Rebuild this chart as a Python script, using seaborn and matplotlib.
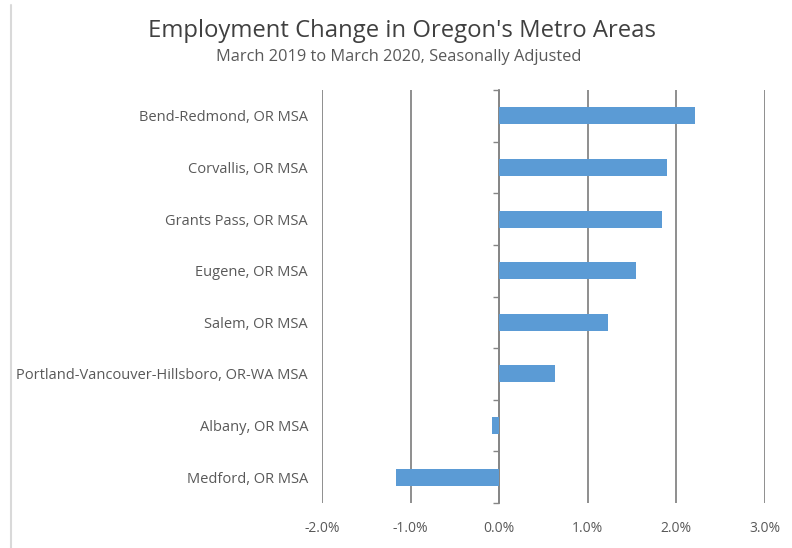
import matplotlib
matplotlib.use("Agg")
import matplotlib.pyplot as plt
import seaborn as sns
import pandas as pd
import numpy as np
from matplotlib.ticker import FuncFormatter, FixedLocator
from matplotlib.lines import Line2D

categories = [
    "Bend-Redmond, OR MSA",
    "Corvallis, OR MSA",
    "Grants Pass, OR MSA",
    "Eugene, OR MSA",
    "Salem, OR MSA",
    "Portland-Vancouver-Hillsboro, OR-WA MSA",
    "Albany, OR MSA",
    "Medford, OR MSA",
]
values = [2.21, 1.89, 1.84, 1.54, 1.23, 0.63, -0.08, -1.17]
x_ticks = [-2.0, -1.0, 0.0, 1.0, 2.0, 3.0]

title = "Employment Change in Oregon's Metro Areas"
subtitle = "March 2019 to March 2020, Seasonally Adjusted"

df = pd.DataFrame({"area": categories, "change": values})

sns.set_theme(style="white")
plt.rcParams["font.family"] = ["Open Sans", "DejaVu Sans"]

fig = plt.figure(figsize=(7.92, 5.48), dpi=100)
ax = fig.add_axes([322 / 792, 1 - 503 / 548, (765 - 322) / 792, (503 - 90) / 548])

sns.barplot(data=df, x="change", y="area", order=categories, color="#5B9BD5",
            saturation=1, width=0.33, linewidth=0, edgecolor="none", ax=ax, zorder=3)

ax.set_xlim(x_ticks[0], x_ticks[-1])
ax.set_ylim(len(categories) - 0.5, -0.5)
ax.xaxis.set_major_locator(FixedLocator(x_ticks))
ax.xaxis.set_major_formatter(FuncFormatter(lambda v, p: f"{v:.1f}%"))
ax.grid(axis="x", color="#868686", linewidth=1.3, zorder=0)
ax.grid(axis="y", visible=False)
for s in ax.spines.values():
    s.set_visible(False)
ax.set_xlabel("")
ax.set_ylabel("")
ax.tick_params(axis="x", length=0, pad=13, labelsize=10, labelcolor="#595959")
ax.tick_params(axis="y", length=0, pad=10, labelsize=10.5, labelcolor="#595959")

# category axis crossing at zero, with boundary tick marks
zero_frac = (0 - x_ticks[0]) / (x_ticks[-1] - x_ticks[0])
sec = ax.secondary_yaxis(zero_frac)
sec.spines["left"].set_color("#868686")
sec.spines["left"].set_linewidth(1.3)
sec.set_yticks(np.arange(-0.5, len(categories), 1.0))
sec.set_yticklabels([])
sec.tick_params(axis="y", direction="out", length=4, width=1.0, color="#868686")

fig.text(0.508, 1 - 31 / 548, title, ha="center", va="center", fontsize=17.2, color="#404040")
fig.text(0.503, 1 - 57 / 548, subtitle, ha="center", va="center", fontsize=11.8, color="#595959")

fig.add_artist(Line2D([10.5 / 792, 10.5 / 792], [0, 1 - 5 / 548], transform=fig.transFigure,
                      color="#d9d9d9", linewidth=1.5))

fig.savefig("out.png", dpi=100, facecolor="white")
